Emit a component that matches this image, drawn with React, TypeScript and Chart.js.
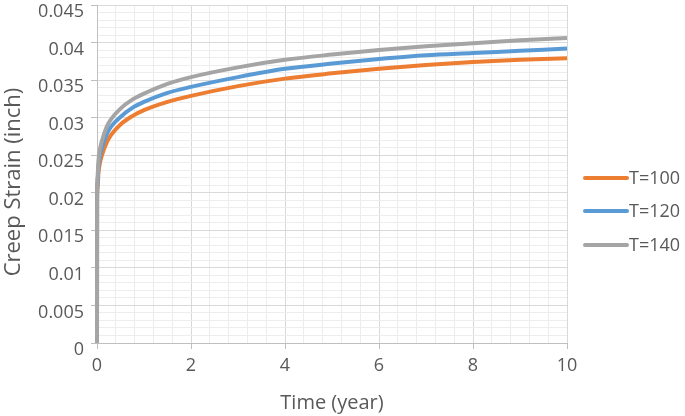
import React, { useEffect, useRef } from "react";
import { Chart, registerables } from "chart.js";

Chart.register(...registerables);

const timeYears = [0, 0.002, 0.01, 0.03, 0.06, 0.1, 0.2, 0.3, 0.5, 0.75, 1, 1.5, 2, 3, 4, 5, 6, 7, 8, 9, 10];
const strainT100 = [0, 0.0185, 0.0205, 0.0226, 0.0239, 0.0249, 0.0266, 0.0277, 0.0291, 0.0302, 0.031, 0.0321, 0.0329, 0.0342, 0.0352, 0.0359, 0.0365, 0.037, 0.0374, 0.0377, 0.0379];
const strainT120 = [0, 0.0192, 0.0212, 0.0234, 0.0248, 0.0259, 0.0277, 0.0288, 0.0301, 0.0313, 0.0321, 0.0333, 0.0341, 0.0354, 0.0365, 0.0372, 0.0378, 0.0383, 0.0386, 0.0389, 0.0392];
const strainT140 = [0, 0.0199, 0.022, 0.0242, 0.0257, 0.0268, 0.0287, 0.0298, 0.0312, 0.0324, 0.0332, 0.0345, 0.0354, 0.0367, 0.0377, 0.0384, 0.039, 0.0395, 0.0399, 0.0403, 0.0406];
const seriesLabels = ["T=100", "T=120", "T=140"];
const seriesColors = ["#ED7D31", "#5B9BD5", "#A5A5A5"];
const yTitle = "Creep Strain (inch)";
const xTitle = "Time (year)";

const FONT = "'Open Sans', 'Noto Sans', sans-serif";
const TEXT = "#595959";

const legendPlugin = {
  id: "customLegend",
  afterDraw(chart: any) {
    const { ctx, chartArea } = chart;
    const x0 = chartArea.right + 18;
    const ys = [178, 211, 245];
    ctx.save();
    chart.data.datasets.forEach((ds: any, i: number) => {
      const y = ys[i];
      ctx.strokeStyle = ds.borderColor;
      ctx.lineWidth = 4;
      ctx.lineCap = "round";
      ctx.beginPath();
      ctx.moveTo(x0, y);
      ctx.lineTo(x0 + 42, y);
      ctx.stroke();
      ctx.fillStyle = TEXT;
      ctx.font = `18px ${FONT}`;
      ctx.textBaseline = "middle";
      ctx.textAlign = "left";
      ctx.fillText(ds.label, x0 + 44, y + 1);
    });
    // y axis title
    ctx.translate(14, (chartArea.top + chartArea.bottom) / 2 + 8);
    ctx.rotate(-Math.PI / 2);
    ctx.font = `22px ${FONT}`;
    ctx.textAlign = "center";
    ctx.textBaseline = "middle";
    ctx.fillStyle = TEXT;
    ctx.fillText(yTitle, 0, 0);
    ctx.restore();
  },
};

export default function App() {
  const ref = useRef<HTMLCanvasElement>(null);
  useEffect(() => {
    if (!ref.current) return;
    const mk = (ys: number[]) => timeYears.map((t, i) => ({ x: t, y: ys[i] }));
    const all = [strainT100, strainT120, strainT140];
    const chart = new Chart(ref.current, {
      type: "line",
      data: {
        datasets: all.map((ys, i) => ({
          label: seriesLabels[i],
          data: mk(ys),
          borderColor: seriesColors[i],
          backgroundColor: seriesColors[i],
          borderWidth: 4,
          pointRadius: 0,
          cubicInterpolationMode: "monotone",
          clip: false,
          order: 2 - i,
        })),
      },
      options: {
        responsive: false,
        animation: false,
        layout: { padding: { left: 0, right: 118, top: 5, bottom: 0 } },
        plugins: { legend: { display: false }, tooltip: { enabled: false } },
        scales: {
          x: {
            type: "linear",
            min: 0,
            max: 10,
            afterFit: (s: any) => {
              s.height = 73;
              s.paddingLeft = 0;
              s.paddingRight = 0;
            },
            ticks: {
              stepSize: 0.4,
              autoSkip: false,
              maxRotation: 0,
              color: TEXT,
              font: { family: FONT, size: 18 },
              padding: 6,
              callback: (v: any) => {
                const k = Math.round(Number(v) * 10);
                return k % 20 === 0 ? String(k / 10) : "";
              },
            },
            grid: {
              color: (c: any) => (Math.round(c.tick.value * 10) % 20 === 0 ? "#d9d9d9" : "#ededed"),
              tickColor: (c: any) => (Math.round(c.tick.value * 10) % 20 === 0 ? "#bfbfbf" : "rgba(0,0,0,0)"),
              tickLength: 6,
            },
            border: { color: "#bfbfbf", width: 1 },
            title: {
              display: true,
              text: xTitle,
              color: TEXT,
              font: { family: FONT, size: 20 },
              padding: { top: 0, bottom: 1 },
            },
          },
          y: {
            type: "linear",
            min: 0,
            max: 0.045,
            afterFit: (s: any) => {
              s.width = 97;
              s.paddingTop = 0;
              s.paddingBottom = 0;
            },
            ticks: {
              stepSize: 0.001,
              autoSkip: false,
              color: TEXT,
              font: { family: FONT, size: 18 },
              padding: 7,
              labelOffset: 7,
              callback: (v: any) => {
                const k = Math.round(Number(v) * 1000);
                return k % 5 === 0 ? String(k / 1000) : "";
              },
            },
            grid: {
              color: (c: any) => (Math.round(c.tick.value * 1000) % 5 === 0 ? "#d9d9d9" : "#ededed"),
              tickColor: (c: any) => (Math.round(c.tick.value * 1000) % 5 === 0 ? "#bfbfbf" : "rgba(0,0,0,0)"),
              tickLength: 6,
            },
            border: { color: "#bfbfbf", width: 1 },
            title: { display: false, text: yTitle },
          },
        },
      },
      plugins: [legendPlugin],
    });
    return () => chart.destroy();
  }, []);
  return (
    <canvas
      ref={ref}
      width={685}
      height={416}
      style={{ position: "absolute", left: 0, top: 0, display: "block" }}
    />
  );
}
